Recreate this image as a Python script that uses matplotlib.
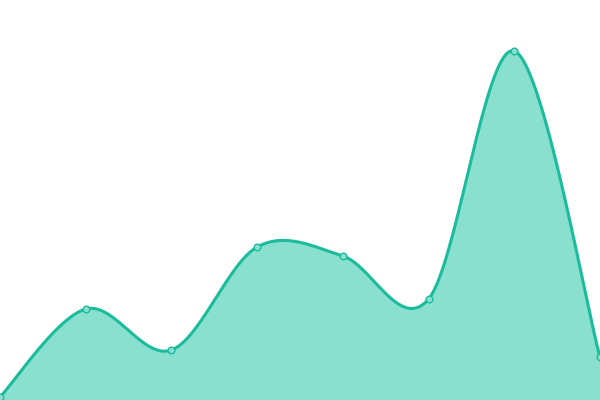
import numpy as np
import matplotlib
matplotlib.use("Agg")
import matplotlib.pyplot as plt

categories = [0, 1, 2, 3, 4, 5, 6, 7]
values = [3, 91, 50, 153, 144, 101, 349, 43]

LINE = "#1abc9c"
FILL = "#8ae0cf"


def smooth_curve(xs, ys, n=60):
    xs = np.asarray(xs, float)
    ys = np.asarray(ys, float)
    px, py = [], []
    m = len(xs)
    for i in range(m - 1):
        i0 = max(i - 1, 0)
        i3 = min(i + 2, m - 1)
        p0 = np.array([xs[i], ys[i]])
        p1 = np.array([xs[i + 1], ys[i + 1]])
        t0 = (np.array([xs[i + 1], ys[i + 1]]) - np.array([xs[i0], ys[i0]])) / 2
        t1 = (np.array([xs[i3], ys[i3]]) - np.array([xs[i], ys[i]])) / 2
        c0 = p0 + t0 / 3
        c1 = p1 - t1 / 3
        t = np.linspace(0, 1, n, endpoint=(i == m - 2))[:, None]
        pts = ((1 - t) ** 3) * p0 + 3 * ((1 - t) ** 2) * t * c0 + 3 * (1 - t) * t ** 2 * c1 + t ** 3 * p1
        px.extend(pts[:, 0])
        py.extend(pts[:, 1])
    return np.array(px), np.array(py)


fig = plt.figure(figsize=(6, 4), dpi=100)
ax = fig.add_axes([0, 0, 1, 1])
cx, cy = smooth_curve(categories, values)
ax.fill_between(cx, 0, cy, color=FILL, linewidth=0)
ax.plot(cx, cy, color=LINE, linewidth=2.2, solid_capstyle="round")
ax.plot(categories, values, "o", markersize=4.8, markerfacecolor=FILL,
        markeredgecolor=LINE, markeredgewidth=1.0)
ax.set_xlim(0, 7)
ax.set_ylim(0, 400)
ax.axis("off")
fig.savefig("out.png", dpi=100)
